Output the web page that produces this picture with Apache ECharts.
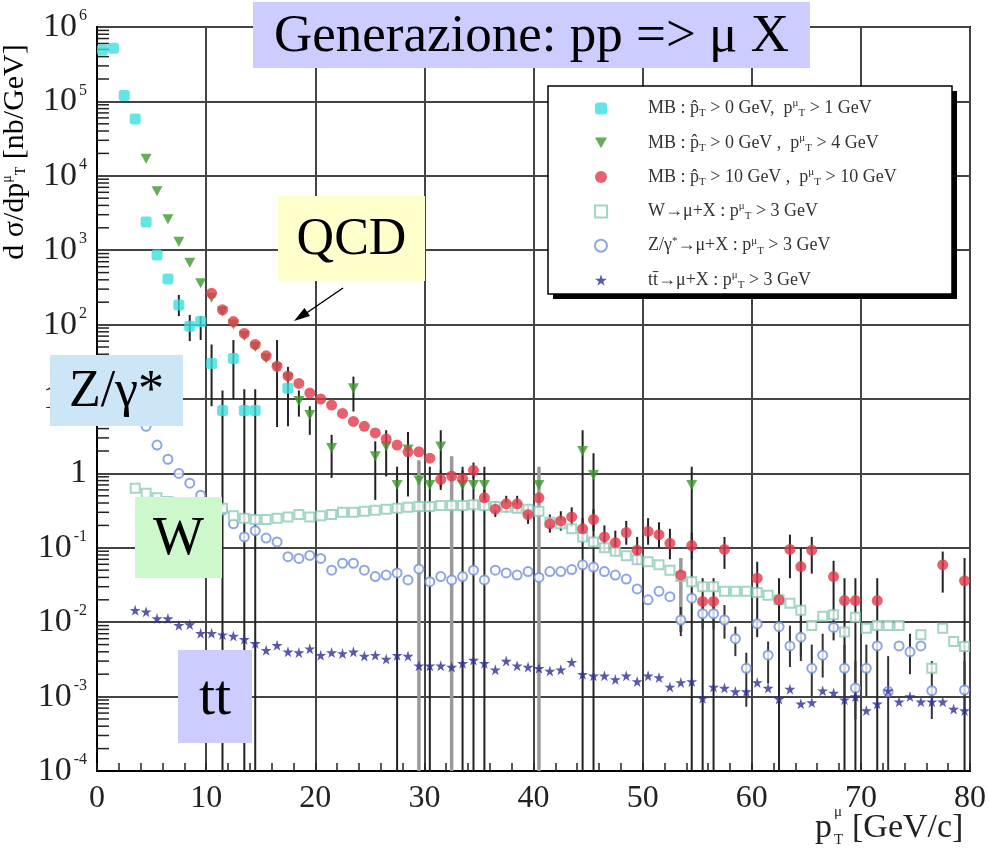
<!DOCTYPE html>
<html>
<head>
<meta charset="utf-8">
<script src="https://cdn.jsdelivr.net/npm/echarts@6/dist/echarts.min.js"></script>
<style>
html, body { margin: 0; padding: 0; background: #fff; }
#main { width: 989px; height: 853px; }
</style>
</head>
<body>
<div id="main"></div>
<script>
// MB, pT(mu) > 1 GeV
const cyanX = [0.5, 1.5, 2.5, 3.5, 4.5, 5.5, 6.5, 7.5, 8.5, 9.5, 10.5, 11.5, 12.5, 13.5, 14.5, 17.5];
const cyanY = [4.9e5, 5.2e5, 1.2e5, 5.8e4, 2.4e3, 860, 410, 183, 95, 110, 30, 7, 35, 7, 7, 14];
const cyanErr = [[7.5, 130, 250], [8.5, 60, 135], [9.5, 62, 130], [10.5, 8, 54], [11.5, 1e-4, 13],
  [12.5, 10, 62], [13.5, 1e-4, 13.5], [14.5, 1e-4, 13.5], [17.5, 4.3, 27]];

// MB, pT(mu) > 4 GeV
const greenX = [4.5, 5.5, 6.5, 7.5, 8.5, 9.5, 10.5, 11.5, 12.5, 13.5, 14.5, 15.5, 16.5, 17.5, 18.5, 19.5,
  21.5, 23.5, 25.5, 26.5, 27.5, 28.5, 29.5, 30.5, 31.5, 33.5, 34.5, 35.5, 40.5, 44.5, 45.5, 54.5];
const greenY = [1.7e4, 6.2e3, 2.6e3, 1.3e3, 680, 360, 230, 150, 100, 70, 50, 35, 26, 19, 9.4, 6.1,
  2.2, 14, 1.7, 2.3, 0.7, 2.1, 0.8, 0.7, 2.3, 0.7, 0.7, 0.7, 0.7, 2.0, 0.95, 0.7];
const greenErr = [[16.5, 4.2, 62], [18.5, 5.8, 13], [19.5, 3.3, 8], [21.5, 0.87, 3.3], [23.5, 6.8, 20],
  [25.5, 0.44, 2.7], [26.5, 0.91, 3.8], [27.5, 1e-4, 1.23], [28.5, 0.49, 3.6], [30.5, 1e-4, 1.23],
  [31.5, 0.66, 3.8], [33.5, 1e-4, 1.23], [34.5, 1e-4, 1.23], [35.5, 1e-4, 1.23], [44.5, 1e-4, 3.8],
  [45.5, 1e-4, 1.86], [54.5, 1e-4, 1.23]];
const greyErr = [[29.5, 1e-4, 1.5], [32.5, 1e-4, 1.7], [40.5, 1e-4, 1.23], [53.5, 0.0074, 0.073]];

// MB, pT(mu) > 10 GeV
const redX = [10.5, 11.5, 12.5, 13.5, 14.5, 15.5, 16.5, 17.5, 18.5, 19.5, 20.5, 21.5, 22.5, 23.5, 24.5,
  25.5, 26.5, 27.5, 28.5, 29.5, 30.5, 31.5, 32.5, 33.5, 34.5, 35.5, 36.5, 37.5, 38.5, 39.5, 40.5,
  41.5, 42.5, 43.5, 44.5, 45.5, 46.5, 47.5, 48.5, 49.5, 50.5, 51.5, 52.5, 53.5, 54.5, 55.5, 56.5,
  57.5, 60.5, 62.5, 63.5, 64.5, 65.5, 67.5, 68.5, 69.5, 71.5, 77.5, 79.5];
const redY = [263, 158, 110, 76, 54, 38, 27.5, 20.4, 16.2, 12, 10, 8.3, 6.4, 5.0, 4.3,
  3.5, 2.9, 2.4, 1.95, 1.95, 1.6, 0.83, 0.92, 0.85, 1.1, 0.47, 0.33, 0.39, 0.39, 0.28, 0.47,
  0.21, 0.23, 0.26, 0.18, 0.24, 0.14, 0.117, 0.16, 0.093, 0.166, 0.15, 0.115, 0.043, 0.107, 0.019, 0.019,
  0.095, 0.039, 0.02, 0.095, 0.056, 0.093, 0.041, 0.0195, 0.0195, 0.0195, 0.059, 0.036];
const redErr = [[31.5, 0.6, 1.1], [33.5, 0.65, 1.1], [34.5, 0.85, 1.4], [35.5, 0.36, 0.6], [36.5, 0.26, 0.42],
  [37.5, 0.3, 0.5], [38.5, 0.3, 0.5], [39.5, 0.21, 0.37], [41.5, 0.16, 0.28], [42.5, 0.17, 0.31],
  [43.5, 0.19, 0.35], [44.5, 0.13, 0.25], [45.5, 0.17, 0.33], [46.5, 0.09, 0.2], [47.5, 0.08, 0.17],
  [48.5, 0.11, 0.23], [49.5, 0.06, 0.14], [50.5, 0.11, 0.25], [51.5, 0.1, 0.22], [52.5, 0.07, 0.18],
  [54.5, 0.07, 0.16], [55.5, 1e-4, 0.039], [56.5, 1e-4, 0.039], [57.5, 0.052, 0.14], [60.5, 0.0063, 0.065],
  [62.5, 1e-4, 0.039], [63.5, 0.039, 0.15], [64.5, 0.0035, 0.1], [65.5, 0.045, 0.14], [67.5, 0.0057, 0.067],
  [68.5, 1e-4, 0.039], [69.5, 1e-4, 0.039], [71.5, 1e-4, 0.039], [77.5, 0.025, 0.089], [79.5, 1e-4, 0.073]];

// W -> mu + X
const wX = [3.5, 4.5, 5.5, 6.5, 7.5, 8.5, 9.5, 10.5, 11.5, 12.5, 13.5, 14.5, 15.5, 16.5, 17.5, 18.5, 19.5,
  20.5, 21.5, 22.5, 23.5, 24.5, 25.5, 26.5, 27.5, 28.5, 29.5, 30.5, 31.5, 32.5, 33.5, 34.5, 35.5, 36.5,
  37.5, 38.5, 39.5, 40.5, 41.5, 42.5, 43.5, 44.5, 45.5, 46.5, 47.5, 48.5, 49.5, 50.5, 51.5, 52.5, 53.5,
  54.5, 55.5, 56.5, 57.5, 58.5, 59.5, 60.5, 61.5, 62.5, 63.5, 64.5, 65.5, 66.5, 67.5, 68.5, 69.5, 70.5,
  71.5, 72.5, 73.5, 75.5, 76.5, 77.5, 78.5, 79.5];
const wY = [0.63, 0.54, 0.47, 0.42, 0.38, 0.36, 0.34, 0.34, 0.34, 0.27, 0.25, 0.24, 0.24, 0.25, 0.26, 0.28, 0.26,
  0.27, 0.28, 0.3, 0.3, 0.31, 0.32, 0.33, 0.34, 0.35, 0.36, 0.36, 0.37, 0.37, 0.37, 0.38, 0.37, 0.36,
  0.35, 0.34, 0.33, 0.31, 0.22, 0.21, 0.18, 0.14, 0.12, 0.1, 0.09, 0.078, 0.069, 0.065, 0.059, 0.05, 0.041,
  0.035, 0.03, 0.03, 0.026, 0.026, 0.026, 0.025, 0.023, 0.02, 0.018, 0.0145, 0.009, 0.012, 0.0126, 0.0074, 0.0117, 0.0083,
  0.009, 0.009, 0.009, 0.0068, 0.0024, 0.0083, 0.0055, 0.0047];

// Z/gamma* -> mu + X
const zX = [3.5, 4.5, 5.5, 6.5, 7.5, 8.5, 9.5, 10.5, 11.5, 12.5, 13.5, 14.5, 15.5, 16.5, 17.5, 18.5, 19.5,
  20.5, 21.5, 22.5, 23.5, 24.5, 25.5, 26.5, 27.5, 28.5, 29.5, 30.5, 31.5, 32.5, 33.5, 34.5, 35.5, 36.5,
  37.5, 38.5, 39.5, 40.5, 41.5, 42.5, 43.5, 44.5, 45.5, 46.5, 47.5, 48.5, 49.5, 50.5, 51.5, 52.5, 53.5,
  54.5, 55.5, 56.5, 57.5, 58.5, 59.5, 60.5, 61.5, 62.5, 63.5, 64.5, 65.5, 66.5, 67.5, 68.5, 69.5, 70.5,
  71.5, 72.5, 73.5, 74.5, 75.5, 76.5, 79.5];
const zY = [8, 4.3, 2.4, 1.55, 1.0, 0.74, 0.51, 0.4, 0.32, 0.21, 0.14, 0.17, 0.135, 0.12, 0.076, 0.072, 0.079,
  0.072, 0.05, 0.062, 0.062, 0.05, 0.041, 0.043, 0.046, 0.037, 0.052, 0.035, 0.041, 0.037, 0.041, 0.05, 0.037, 0.05,
  0.046, 0.043, 0.048, 0.04, 0.048, 0.048, 0.051, 0.059, 0.055, 0.048, 0.043, 0.038, 0.028, 0.02, 0.026, 0.022, 0.0107,
  0.021, 0.013, 0.013, 0.0107, 0.006, 0.0024, 0.0095, 0.0036, 0.0087, 0.0048, 0.0063, 0.0024, 0.0036, 0.0085, 0.0024, 0.0013, 0.0024,
  0.0048, 0.00117, 0.0048, 0.004, 0.0048, 0.0012, 0.00123];
const zErr = [[53.5, 0.0065, 0.016], [55.5, 0.008, 0.02], [56.5, 0.008, 0.02], [57.5, 0.006, 0.017],
  [58.5, 0.0035, 0.0087], [59.5, 0.00073, 0.0039], [61.5, 0.0015, 0.0055], [63.5, 0.0025, 0.009],
  [64.5, 0.003, 0.012], [65.5, 0.001, 0.005], [66.5, 0.0018, 0.007], [68.5, 0.001, 0.005],
  [69.5, 0.0005, 0.003], [70.5, 0.001, 0.005], [72.5, 1e-4, 0.0035], [74.5, 0.002, 0.007],
  [76.5, 0.0005, 0.003], [79.5, 0.0006, 0.003]];

// ttbar -> mu + X
const ttX = [3.5, 4.5, 5.5, 6.5, 7.5, 8.5, 9.5, 10.5, 11.5, 12.5, 13.5, 14.5, 15.5, 16.5, 17.5, 18.5, 19.5,
  20.5, 21.5, 22.5, 23.5, 24.5, 25.5, 26.5, 27.5, 28.5, 29.5, 30.5, 31.5, 32.5, 33.5, 34.5, 35.5, 36.5,
  37.5, 38.5, 39.5, 40.5, 41.5, 42.5, 43.5, 44.5, 45.5, 46.5, 47.5, 48.5, 49.5, 50.5, 51.5, 52.5, 53.5,
  54.5, 55.5, 56.5, 57.5, 58.5, 59.5, 60.5, 61.5, 62.5, 63.5, 64.5, 65.5, 66.5, 67.5, 68.5, 69.5, 70.5,
  71.5, 72.5, 73.5, 74.5, 75.5, 76.5, 77.5, 78.5, 79.5];
const ttY = [0.0145, 0.0138, 0.0112, 0.0112, 0.0091, 0.0093, 0.0071, 0.0071, 0.0068, 0.0065, 0.0059, 0.0052, 0.0042,
  0.0049, 0.004, 0.0039, 0.0044, 0.0036, 0.0039, 0.0038, 0.004, 0.0035, 0.0036, 0.0032, 0.0036, 0.0035, 0.0026,
  0.0026, 0.0026, 0.0025, 0.0028, 0.0031, 0.0028, 0.0023, 0.003, 0.0026, 0.0025, 0.0024, 0.0022, 0.0023, 0.0029,
  0.002, 0.0019, 0.0019, 0.0017, 0.0019, 0.0016, 0.0019, 0.0018, 0.00135, 0.00155, 0.0016, 0.00095, 0.00135, 0.0013,
  0.00117, 0.00117, 0.00155, 0.0013, 0.00093, 0.00126, 0.0008, 0.00083, 0.0012, 0.00112, 0.00091, 0.001, 0.00065,
  0.0008, 0.0012, 0.00085, 0.001, 0.00085, 0.00085, 0.00085, 0.00068, 0.00065];

const serif = '"Liberation Serif", "DejaVu Serif", serif';

function zip(xs, ys) {
  return xs.map(function (x, i) { return [x, ys[i]]; });
}

function errSeries(data, color, width) {
  return {
    type: 'custom',
    silent: true,
    z: 1,
    encode: { x: 0, y: [1, 2] },
    data: data,
    renderItem: function (params, api) {
      const x = api.value(0);
      const a = api.coord([x, api.value(1)]);
      const b = api.coord([x, api.value(2)]);
      return {
        type: 'line',
        shape: { x1: a[0], y1: a[1], x2: b[0], y2: b[1] },
        style: { stroke: color, lineWidth: width }
      };
    }
  };
}

// minor ticks of the log axis (2..9 in each decade)
const minorTicks = [];
for (let e = -4; e < 6; e++) {
  for (let m = 2; m <= 9; m++) minorTicks.push([0, m * Math.pow(10, e)]);
}

const legendText = {
  c: '{m|MB : }{t|p̂}{s|T}{t| > 0 GeV,  p}{u|μ}{s|T}{t| > 1 GeV}',
  g: '{m|MB : }{t|p̂}{s|T}{t| > 0 GeV ,  p}{u|μ}{s|T}{t| > 4 GeV}',
  r: '{m|MB : }{t|p̂}{s|T}{t| > 10 GeV ,  p}{u|μ}{s|T}{t| > 10 GeV}',
  w: '{m|W→μ+X : p}{u|μ}{s|T}{t| > 3 GeV}',
  z: '{m|Z/γ}{u|*}{t|→μ+X : p}{u|μ}{s|T}{t| > 3 GeV}',
  t: '{m|tt̄→μ+X : p}{u|μ}{s|T}{t| > 3 GeV}'
};

const star = 'path://M50,0 L61,35 L98,35 L68,57 L79,91 L50,70 L21,91 L32,57 L2,35 L39,35 Z';
const tri = 'path://M0,0 L10,0 L5,9 Z';

var chartDom = document.getElementById('main');
var myChart = echarts.init(chartDom);
var option;

function box(x, y, w, h, color, text, fs) {
  return [
    { type: 'rect', z: 20, shape: { x: x, y: y, width: w, height: h }, style: { fill: color } },
    {
      type: 'text', z: 21, x: x + w / 2, y: y + h / 2 + 2,
      style: { text: text, font: fs + 'px ' + serif, fill: '#000', align: 'center', verticalAlign: 'middle' }
    }
  ];
}

option = {
  backgroundColor: '#fff',
  animation: false,
  grid: {
    left: 97, right: 17, top: 27, bottom: 82,
    show: true, borderColor: '#000', borderWidth: 2
  },
  xAxis: {
    type: 'value',
    min: 0, max: 80, interval: 10,
    axisLine: { show: true, lineStyle: { color: '#000', width: 2 } },
    axisTick: { show: true, inside: true, length: 8, lineStyle: { color: '#222', width: 1.5 } },
    minorTick: { show: true, splitNumber: 5, length: 8, lineStyle: { color: '#222', width: 1.5 } },
    splitLine: { show: true, lineStyle: { color: '#444', width: 2 } },
    axisLabel: { margin: 12, fontSize: 32, fontFamily: serif, color: '#222' }
  },
  yAxis: {
    type: 'log', logBase: 10,
    min: 1e-4, max: 1e6, splitNumber: 10,
    axisLine: { show: true, lineStyle: { color: '#000', width: 2 } },
    axisTick: { show: false },
    splitLine: { show: true, lineStyle: { color: '#444', width: 2 } },
    axisLabel: {
      margin: 10,
      formatter: function (v) {
        const e = Math.round(Math.log10(v));
        if (e === 0) return '{b|1}';
        return '{b|10}{e|' + e + '}';
      },
      rich: {
        b: { fontSize: 34, fontFamily: serif, color: '#222' },
        e: { fontSize: 16, fontFamily: serif, color: '#222', padding: [0, 0, 22, 2] }
      }
    }
  },
  legend: {
    orient: 'vertical',
    left: 548, top: 86,
    padding: [12, 22, 6, 46],
    itemGap: 13.3,
    itemWidth: 12, itemHeight: 12,
    z: 30,
    data: ['c', 'g', 'r', 'w', 'z', 't'],
    formatter: function (name) { return legendText[name]; },
    textStyle: {
      rich: {
        m: { fontSize: 18, fontFamily: serif, color: '#333', lineHeight: 22, padding: [0, 0, 0, 36] },
        t: { fontSize: 18, fontFamily: serif, color: '#333', lineHeight: 22 },
        s: { fontSize: 11, fontFamily: serif, color: '#333', padding: [10, 0, 0, 0] },
        u: { fontSize: 11, fontFamily: serif, color: '#333', padding: [0, 0, 10, 0] }
      }
    }
  },
  graphic: {
    elements: [
      // legend frame with hard shadow
      { type: 'rect', z: 25, shape: { x: 553, y: 91, width: 404, height: 208 }, style: { fill: '#000' } },
      { type: 'rect', z: 26, shape: { x: 548, y: 86, width: 404, height: 208 }, style: { fill: '#fff', stroke: '#000', lineWidth: 1.5 } }
    ]
      .concat(box(253, 2, 557, 66, '#ccccff', 'Generazione: pp => μ X', 53))
      .concat(box(278, 196, 147, 85, '#ffffcc', 'QCD', 52))
      .concat(box(50, 355, 133, 71, '#cce6f8', 'Z/γ*', 52))
      .concat(box(135, 497, 87, 81, '#ccf8cc', 'W', 54))
      .concat(box(178, 650, 74, 93, '#ccccff', 'tt', 58))
      .concat([
        { type: 'line', z: 22, shape: { x1: 343, y1: 288, x2: 305, y2: 314 }, style: { stroke: '#000', lineWidth: 1.5 } },
        { type: 'polygon', z: 22, shape: { points: [[294, 321], [310, 316], [304.5, 308]] }, style: { fill: '#000' } },
        {
          type: 'text', z: 22, x: 15, y: 152, rotation: Math.PI / 2,
          style: {
            text: '{n|d σ/dp}{u|μ}{s|T}{n| [nb/GeV]}',
            align: 'center', verticalAlign: 'middle',
            rich: {
              n: { fontSize: 30, fontFamily: serif, color: '#222' },
              u: { fontSize: 14, fontFamily: serif, color: '#222', padding: [0, 0, 15, 0] },
              s: { fontSize: 14, fontFamily: serif, color: '#222', padding: [13, 0, 0, 0] }
            }
          }
        },
        { type: 'text', z: 22, x: 815, y: 828, style: { text: 'p', font: '34px ' + serif, fill: '#222', verticalAlign: 'middle' } },
        { type: 'text', z: 22, x: 834, y: 812, style: { text: 'μ', font: '15px ' + serif, fill: '#222', verticalAlign: 'middle' } },
        { type: 'text', z: 22, x: 834, y: 840, style: { text: 'T', font: '15px ' + serif, fill: '#222', verticalAlign: 'middle' } },
        { type: 'text', z: 22, x: 852, y: 828, style: { text: '[GeV/c]', font: '34px ' + serif, fill: '#222', verticalAlign: 'middle' } }
      ])
  },
  series: [
    {
      type: 'custom', silent: true, z: 1,
      data: minorTicks,
      renderItem: function (params, api) {
        const p = api.coord([api.value(0), api.value(1)]);
        return {
          type: 'line',
          shape: { x1: p[0], y1: p[1], x2: p[0] + 12, y2: p[1] },
          style: { stroke: '#222', lineWidth: 1.5 }
        };
      }
    },
    errSeries(greyErr, '#9a9a9a', 3.5),
    errSeries(cyanErr, '#222', 2),
    errSeries(greenErr, '#222', 2),
    errSeries(redErr, '#222', 2),
    errSeries(zErr, '#333', 2),
    {
      name: 'z', type: 'scatter', z: 3, data: zip(zX, zY),
      symbol: 'emptyCircle', symbolSize: 9,
      itemStyle: { color: '#7090dc', borderWidth: 1.5 }
    },
    {
      name: 'w', type: 'scatter', z: 3, data: zip(wX, wY),
      symbol: 'emptyRect', symbolSize: 9,
      itemStyle: { color: '#8ccbb8', borderWidth: 1.5 }
    },
    {
      name: 't', type: 'scatter', z: 3, data: zip(ttX, ttY),
      symbol: star, symbolSize: 11,
      itemStyle: { color: '#2e2e98' }
    },
    {
      name: 'c', type: 'scatter', z: 4, data: zip(cyanX, cyanY),
      symbol: 'roundRect', symbolSize: 11,
      itemStyle: { color: '#3cdede' }
    },
    {
      name: 'g', type: 'scatter', z: 4, data: zip(greenX, greenY),
      symbol: tri, symbolSize: [11, 10],
      itemStyle: { color: '#3c9a2c' }
    },
    {
      name: 'r', type: 'scatter', z: 5, data: zip(redX, redY),
      symbol: 'circle', symbolSize: 11,
      itemStyle: { color: '#e03a48' }
    }
  ]
};

option && myChart.setOption(option);
</script>
</body>
</html>
